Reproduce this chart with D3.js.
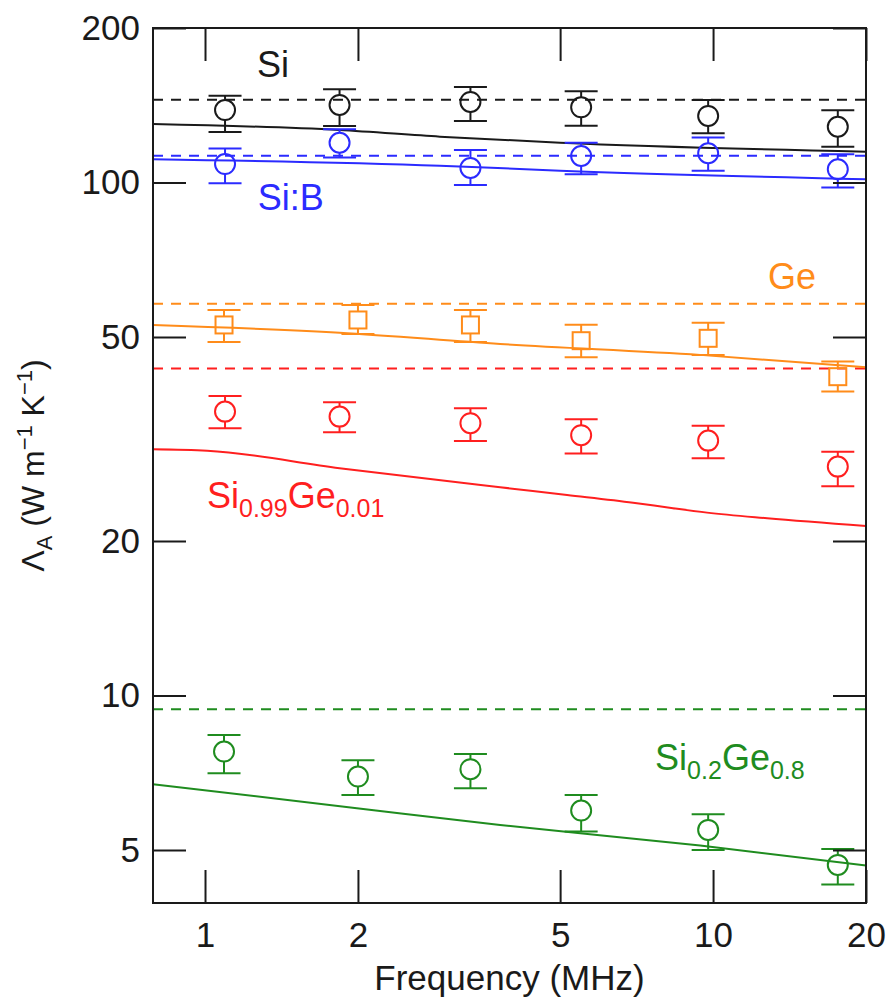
<!DOCTYPE html>
<html>
<head>
<meta charset="utf-8">
<script src="https://cdnjs.cloudflare.com/ajax/libs/d3/7.8.5/d3.min.js"></script>
<style>
body { margin: 0; background: #fff; }
svg text { font-family: "Liberation Sans", Arial, Helvetica, sans-serif; }
</style>
</head>
<body>
<svg id="chart" width="886" height="1000"></svg>
<script>
// measurement frequencies (MHz)
var freqA = [1.095, 1.84, 3.33, 5.5, 9.78, 17.6];
var freqB = [1.09, 2.0, 3.33, 5.5, 9.78, 17.6];

// measured points: value, upper and lower error bar ends (W m-1 K-1)
var siVal = [138.4, 141.6, 143.5, 140.1, 134.8, 128.4];
var siHi  = [147.6, 151.9, 153.5, 150.5, 144.8, 138.2];
var siLo  = [125.4, 128.8, 131.8, 129.0, 124.7, 117.4];

var sibVal = [108.6, 119.5, 106.7, 112.6, 114.0, 106.1];
var sibHi  = [116.4, 126.9, 115.7, 119.5, 122.3, 113.5];
var sibLo  = [99.6, 111.9, 98.9, 103.7, 105.4, 97.7];

var geVal = [52.75, 53.94, 52.75, 49.15, 49.68, 41.82];
var geHi  = [56.41, 57.69, 56.41, 52.82, 53.29, 44.75];
var geLo  = [48.87, 50.66, 48.87, 45.64, 46.12, 39.11];

var sg1Val = [35.75, 34.96, 33.94, 32.16, 31.39, 27.93];
var sg1Hi  = [38.36, 37.29, 36.30, 34.55, 33.57, 29.87];
var sg1Lo  = [33.18, 32.59, 31.35, 29.61, 29.00, 25.57];

var sg8Val = [7.775, 6.949, 7.183, 5.966, 5.470, 4.675];
var sg8Hi  = [8.378, 7.480, 7.694, 6.400, 5.870, 5.023];
var sg8Lo  = [7.055, 6.400, 6.596, 5.429, 5.000, 4.280];

// model curves (solid)
var siModF = [0.79, 1.84, 2.9, 5.0, 20];
var siModV = [130.0, 126.5, 122.8, 119.5, 114.8];
var sibModF = [0.79, 2.9, 5.0, 20];
var sibModV = [111.0, 107.8, 105.4, 101.4];
var geModF = [0.79, 1.84, 3.81, 9.43, 20];
var geModV = [52.75, 50.95, 48.43, 46.12, 43.63];
var sg1ModF = [0.79, 1.01, 1.84, 3.81, 5.16, 6.96, 8.34, 9.73, 12.78, 20];
var sg1ModV = [30.19, 30.0, 27.73, 25.46, 24.60, 23.76, 23.17, 22.72, 22.15, 21.40];
var sg8ModF = [0.79, 1.99, 3.81, 9.43, 20];
var sg8ModV = [6.715, 6.030, 5.594, 5.098, 4.661];

// bulk values (dashed)
var bulkVals = [145, 112.7, 58.0, 43.4, 9.40];

// tick values
var xTicks = [1, 2, 5, 10, 20];
var yTicks = [5, 10, 20, 50, 100, 200];

var colors = ["#1a1a1a", "#2b2bff", "#ff8c1a", "#ff1f1f", "#1f8c1f"];

var series = [
  {f: freqA, v: siVal, hi: siHi, lo: siLo, mf: siModF, mv: siModV, shape: "circle"},
  {f: freqA, v: sibVal, hi: sibHi, lo: sibLo, mf: sibModF, mv: sibModV, shape: "circle"},
  {f: freqB, v: geVal, hi: geHi, lo: geLo, mf: geModF, mv: geModV, shape: "square"},
  {f: freqA, v: sg1Val, hi: sg1Hi, lo: sg1Lo, mf: sg1ModF, mv: sg1ModV, shape: "circle"},
  {f: freqB, v: sg8Val, hi: sg8Hi, lo: sg8Lo, mf: sg8ModF, mv: sg8ModV, shape: "circle"}
];

// label anchors (freq, value) for text
var labelF = [1.266, 1.27, 12.83, 1.009, 7.69];
var labelV = [160.5, 88.4, 62.0, 23.2, 7.16];

var margin = {left: 153, top: 28, right: 20, bottom: 97};
var svg = d3.select("#chart");
var W = 886 - margin.left - margin.right,
    H = 1000 - margin.top - margin.bottom;

var x = d3.scaleLog().domain([0.79, 20]).range([0, W]);
var y = d3.scaleLog().domain([3.94, 200]).range([H, 0]);

var g = svg.append("g").attr("transform", "translate(" + margin.left + "," + margin.top + ")");

// dashed bulk lines
g.selectAll(".bulk").data(bulkVals).enter().append("line")
  .attr("x1", 0).attr("x2", W)
  .attr("y1", function(d) { return y(d); })
  .attr("y2", function(d) { return y(d); })
  .attr("stroke", function(d, i) { return colors[i]; })
  .attr("stroke-width", 2)
  .attr("stroke-dasharray", "10,8");

// model curves
var line = d3.line()
  .x(function(d) { return x(d[0]); })
  .y(function(d) { return y(d[1]); })
  .curve(d3.curveMonotoneX);

series.forEach(function(s, i) {
  var pts = s.mf.map(function(f, k) { return [f, s.mv[k]]; });
  g.append("path").datum(pts)
    .attr("d", line)
    .attr("fill", "none")
    .attr("stroke", colors[i])
    .attr("stroke-width", 2);
});

// points with error bars
var r = 10, capW = 16.5, sq = 8.5;
series.forEach(function(s, i) {
  var c = colors[i];
  var pts = s.f.map(function(f, k) { return {f: f, v: s.v[k], hi: s.hi[k], lo: s.lo[k]}; });
  var pg = g.append("g").selectAll("g").data(pts).enter().append("g")
    .attr("stroke", c).attr("stroke-width", 2).attr("fill", "none");
  var half = s.shape == "square" ? sq : r;
  pg.append("line")
    .attr("x1", function(d) { return x(d.f); }).attr("x2", function(d) { return x(d.f); })
    .attr("y1", function(d) { return y(d.hi); }).attr("y2", function(d) { return y(d.v) - half; });
  pg.append("line")
    .attr("x1", function(d) { return x(d.f); }).attr("x2", function(d) { return x(d.f); })
    .attr("y1", function(d) { return y(d.v) + half; }).attr("y2", function(d) { return y(d.lo); });
  pg.append("line")
    .attr("x1", function(d) { return x(d.f) - capW; }).attr("x2", function(d) { return x(d.f) + capW; })
    .attr("y1", function(d) { return y(d.hi); }).attr("y2", function(d) { return y(d.hi); });
  pg.append("line")
    .attr("x1", function(d) { return x(d.f) - capW; }).attr("x2", function(d) { return x(d.f) + capW; })
    .attr("y1", function(d) { return y(d.lo); }).attr("y2", function(d) { return y(d.lo); });
  if (s.shape == "square") {
    pg.append("rect")
      .attr("x", function(d) { return x(d.f) - sq; })
      .attr("y", function(d) { return y(d.v) - sq; })
      .attr("width", sq * 2).attr("height", sq * 2);
  } else {
    pg.append("circle")
      .attr("cx", function(d) { return x(d.f); })
      .attr("cy", function(d) { return y(d.v); })
      .attr("r", r);
  }
});

// axes (ticks inward, on all four sides)
var tickLen = 33;
var fmt = function(d) { return d; };
var axes = [
  {a: d3.axisBottom(x).tickValues(xTicks).tickFormat(fmt).tickSize(-tickLen).tickPadding(19), t: "translate(0," + H + ")", lab: true},
  {a: d3.axisTop(x).tickValues(xTicks).tickFormat("").tickSize(-tickLen), t: "translate(0,0)", lab: false},
  {a: d3.axisLeft(y).tickValues(yTicks).tickFormat(fmt).tickSize(-tickLen).tickPadding(13), t: "translate(0,0)", lab: true},
  {a: d3.axisRight(y).tickValues(yTicks).tickFormat("").tickSize(-tickLen), t: "translate(" + W + ",0)", lab: false}
];
axes.forEach(function(ax) {
  var sel = g.append("g").attr("transform", ax.t).call(ax.a);
  sel.select(".domain").remove();
  sel.selectAll(".tick line").attr("stroke", "#1a1a1a").attr("stroke-width", 2);
  sel.selectAll(".tick text").attr("fill", "#1a1a1a")
    .style("font-size", "35px").style("font-family", "Liberation Sans, Arial, sans-serif");
});

// frame
g.append("rect").attr("x", 0).attr("y", 0).attr("width", W).attr("height", H)
  .attr("fill", "none").attr("stroke", "#1a1a1a").attr("stroke-width", 2);

// series labels
function addLabel(i, parts) {
  var t = g.append("text")
    .attr("x", x(labelF[i])).attr("y", y(labelV[i]))
    .attr("fill", colors[i]).style("font-size", "36px");
  var shift = 0;
  parts.forEach(function(p) {
    var ts = t.append("tspan").text(p[0]);
    if (p[1]) {
      ts.style("font-size", "25px").attr("dy", 9 - shift); shift = 9;
    } else {
      ts.attr("dy", -shift); shift = 0;
    }
  });
}
addLabel(0, [["Si", 0]]);
addLabel(1, [["Si:B", 0]]);
addLabel(2, [["Ge", 0]]);
addLabel(3, [["Si", 0], ["0.99", 1], ["Ge", 0], ["0.01", 1]]);
addLabel(4, [["Si", 0], ["0.2", 1], ["Ge", 0], ["0.8", 1]]);

// axis titles
svg.append("text")
  .attr("x", margin.left + W / 2).attr("y", 990)
  .attr("text-anchor", "middle").attr("fill", "#1a1a1a")
  .style("font-size", "35px")
  .text("Frequency (MHz)");

var yt = svg.append("text")
  .attr("transform", "translate(44," + (margin.top + H / 2) + ") rotate(-90)")
  .attr("text-anchor", "middle").attr("fill", "#1a1a1a")
  .style("font-size", "32px");
yt.append("tspan").text("\u039B");
yt.append("tspan").text("A").style("font-size", "22px").attr("dy", 8);
yt.append("tspan").text(" (W m").attr("dy", -8);
yt.append("tspan").text("\u22121").style("font-size", "22px").attr("dy", -12);
yt.append("tspan").text(" K").attr("dy", 12);
yt.append("tspan").text("\u22121").style("font-size", "22px").attr("dy", -12);
yt.append("tspan").text(")").attr("dy", 12);
</script>
</body>
</html>
